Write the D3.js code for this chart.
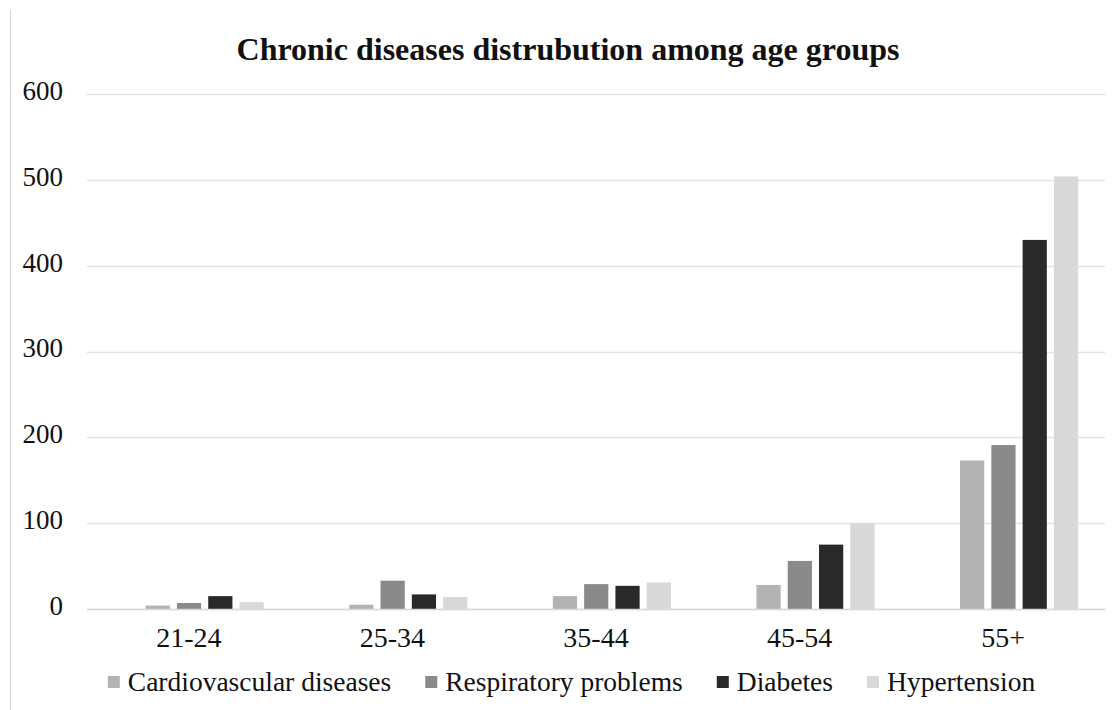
<!DOCTYPE html>
<html>
<head>
<meta charset="utf-8">
<script src="https://cdn.jsdelivr.net/npm/d3@7"></script>
<style>
  html, body { margin: 0; padding: 0; background: #fff; }
  svg { display: block; font-family: "Liberation Serif", "Times New Roman", serif; }
</style>
</head>
<body>
<svg id="chart" width="1115" height="710"></svg>
<script>
// Age groups on the category axis
const ageGroups = ["21-24", "25-34", "35-44", "45-54", "55+"];
// Disease series, in legend order
const diseases = ["Cardiovascular diseases", "Respiratory problems", "Diabetes", "Hypertension"];
// Number of people per disease, one value per age group
const cardiovascular = [4, 5, 15, 28, 173];
const respiratory = [7, 33, 29, 56, 191];
const diabetes = [15, 17, 27, 75, 430];
const hypertension = [8, 14, 31, 100, 504];
const yTicks = [0, 100, 200, 300, 400, 500, 600];
const seriesColors = ["#b3b3b3", "#8a8a8a", "#292929", "#d9d9d9"];

const seriesValues = [cardiovascular, respiratory, diabetes, hypertension];
const rows = ageGroups.map((g, i) => ({
  group: g,
  values: diseases.map((d, j) => ({ key: d, value: seriesValues[j][i] }))
}));

const svg = d3.select("#chart");
const W = 1115, H = 710;
const margin = { left: 87, right: 10, top: 94, bottom: 101 };
const plotW = W - margin.left - margin.right;
const plotH = H - margin.top - margin.bottom;

// chart frame edge on the left
svg.append("line")
  .attr("x1", 10.5).attr("x2", 10.5).attr("y1", 10).attr("y2", H)
  .attr("stroke", "#d9d9d9").attr("stroke-width", 1);

const g = svg.append("g").attr("transform", `translate(${margin.left},${margin.top})`);

const x0 = d3.scaleBand().domain(ageGroups).range([0, plotW]).padding(0);
const bw = x0.bandwidth();
// bars sit in the right part of each category slot
const x1 = d3.scaleBand().domain(diseases)
  .range([bw * 0.288, bw * 0.868]).paddingInner(0.226).paddingOuter(0);
const y = d3.scaleLinear().domain([0, 600]).range([plotH, 0]);

// horizontal gridlines
g.append("g")
  .selectAll("line")
  .data(yTicks)
  .join("line")
  .attr("x1", 0).attr("x2", plotW)
  .attr("y1", d => Math.round(y(d)) + 0.5).attr("y2", d => Math.round(y(d)) + 0.5)
  .attr("stroke", "#e2e2e2").attr("stroke-width", 1.5);

// y axis labels
const yAxis = d3.axisLeft(y).tickValues(yTicks).tickSize(0).tickPadding(24);
g.append("g").call(yAxis)
  .call(a => a.select(".domain").remove())
  .call(a => a.selectAll("text")
    .attr("font-size", 27).attr("fill", "#111")
    .attr("font-family", "Liberation Serif, serif")
    .attr("dy", "0.2em"));

// bars
g.append("g")
  .selectAll("g")
  .data(rows)
  .join("g")
  .attr("transform", d => `translate(${x0(d.group)},0)`)
  .selectAll("rect")
  .data(d => d.values)
  .join("rect")
  .attr("x", d => x1(d.key))
  .attr("width", x1.bandwidth())
  .attr("y", d => y(d.value))
  .attr("height", d => y(0) - y(d.value))
  .attr("fill", (d, i) => seriesColors[i]);

// category axis
const xAxis = d3.axisBottom(x0).tickSize(0).tickPadding(18);
g.append("g").attr("transform", `translate(0,${plotH})`).call(xAxis)
  .call(a => a.select(".domain").attr("stroke", "#d9d9d9").attr("stroke-width", 1.5))
  .call(a => a.selectAll("text")
    .attr("font-size", 28).attr("fill", "#111")
    .attr("font-family", "Liberation Serif, serif"));

// title
svg.append("text")
  .attr("x", 568).attr("y", 60)
  .attr("text-anchor", "middle")
  .attr("font-size", 32).attr("font-weight", "bold").attr("fill", "#111")
  .text("Chronic diseases distrubution among age groups");

// legend, laid out left to right and centred
const legend = svg.append("g");
const items = legend.selectAll("g").data(diseases).join("g");
items.append("rect")
  .attr("width", 12).attr("height", 12)
  .attr("y", -15)
  .attr("fill", (d, i) => seriesColors[i]);
items.append("text")
  .attr("x", 20).attr("y", 0)
  .attr("font-size", 27.5).attr("fill", "#111")
  .text(d => d);
let cursor = 0;
items.each(function () {
  const t = d3.select(this).select("text").node().getComputedTextLength();
  d3.select(this).attr("transform", `translate(${cursor},0)`);
  cursor += 20 + t + 34;
});
const legendW = cursor - 34;
legend.attr("transform", `translate(${(W - legendW) / 2 + 14},691)`);
</script>
</body>
</html>
